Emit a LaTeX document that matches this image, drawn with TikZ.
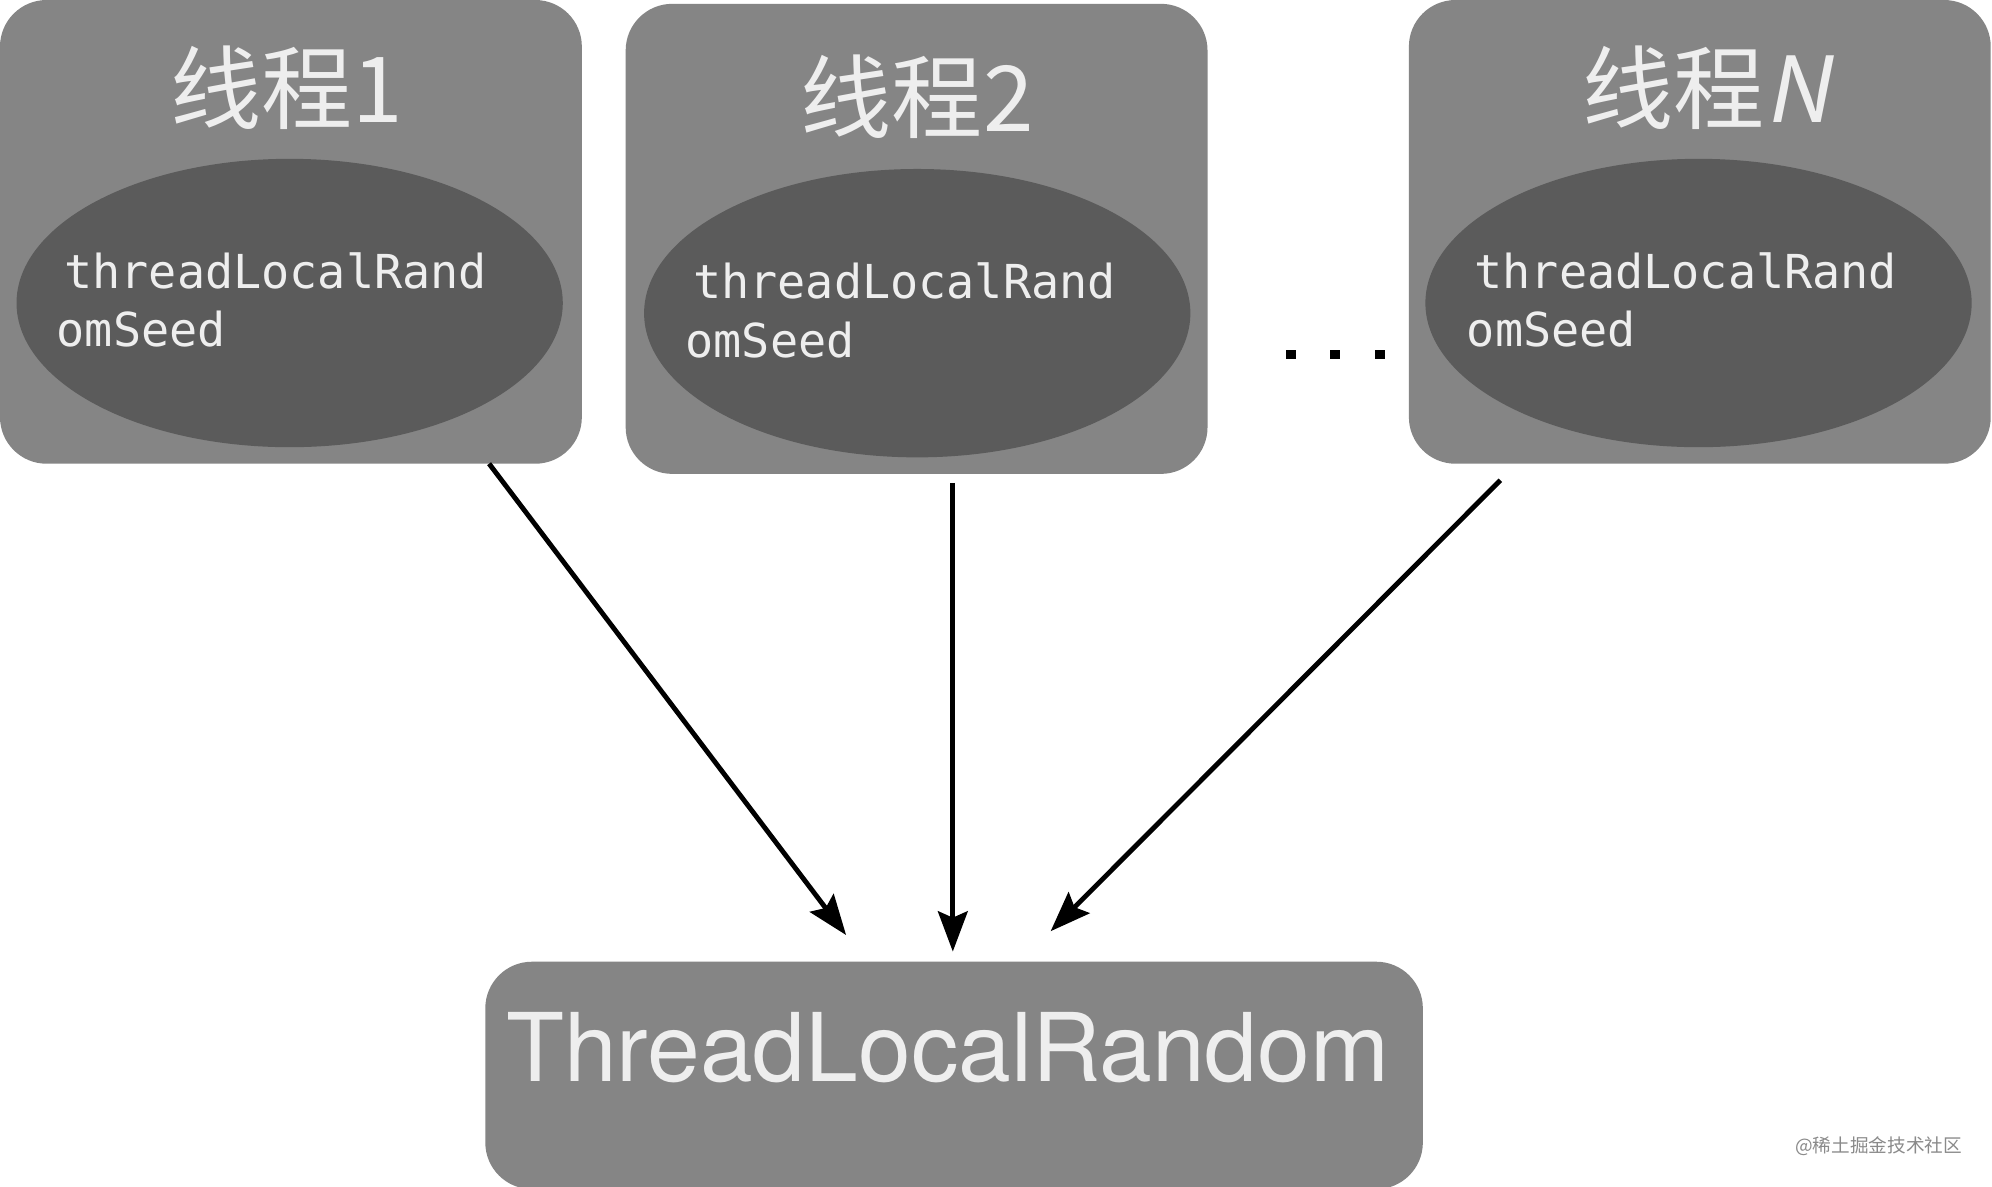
\documentclass[tikz,border=0pt]{standalone}
\usepackage{fontspec}
\setmainfont{Liberation Sans}
\newfontfamily\cjk{Noto Sans CJK SC}
\newfontfamily\cjkit[FakeSlant=0.2]{Noto Sans CJK SC}
\newfontfamily\monof{DejaVu Sans Mono}
\newfontfamily\helv{TeX Gyre Heros}
\usetikzlibrary{shapes.geometric,arrows.meta}
\definecolor{boxgray}{HTML}{858585}
\definecolor{ellgray}{HTML}{5B5B5B}
\definecolor{txtwhite}{HTML}{EEEEEE}
\definecolor{wmgray}{HTML}{8A8A8A}
\tikzset{
  threadbox/.style={fill=boxgray, draw=none, rounded corners=11pt, inner sep=0pt, outer sep=0pt,
    minimum width=137.4pt, minimum height=109.5pt},
  seedell/.style={ellipse, fill=ellgray, draw=none, inner sep=0pt, outer sep=0pt,
    minimum width=129pt, minimum height=68.1pt},
  title/.style={text=txtwhite, inner sep=0pt, font=\cjk\fontsize{21.5pt}{24pt}\selectfont},
  seedtxt/.style={text=txtwhite, inner sep=0pt, anchor=base west, font=\monof\fontsize{11.05pt}{13pt}\selectfont},
  arr/.style={-{Stealth[length=9.5pt,width=7pt,inset=1.5pt]}, line width=1.15pt, black},
  dot/.style={rectangle, fill=black, inner sep=0pt, minimum size=2.3pt}
}
\begin{document}
\begin{tikzpicture}[x=0.3pt,y=-0.3pt]
\useasboundingbox (0,0) rectangle (1568,934);
\fill[white] (0,0) rectangle (1568,934);
% thread boxes
\node[threadbox] (b1) at (229,182.5) {};
\node[threadbox, minimum height=111pt] (b2) at (721.5,188) {};
\node[threadbox] (bn) at (1338,182.5) {};
% ellipses
\node[seedell] (e1) at (228,238.5) {};
\node[seedell] (e2) at (722,246.5) {};
\node[seedell] (en) at (1337,238.5) {};
% titles
\node[title] (t1) at (226,69) {线程1};
\node[title] (t2) at (722,76) {线程2};
\node[title] (tn) at (1343,69) {线程{\cjkit N}};
% seed texts
\node[seedtxt] (s1a) at (50,227) {threadLocalRand};
\node[seedtxt] (s1b) at (44,273) {omSeed};
\node[seedtxt] (s2a) at (545,235) {threadLocalRand};
\node[seedtxt] (s2b) at (539,281) {omSeed};
\node[seedtxt] (sna) at (1160,227) {threadLocalRand};
\node[seedtxt] (snb) at (1154,273) {omSeed};
% dots
\node[dot] (d1) at (1016,279) {};
\node[dot] (d2) at (1051,279) {};
\node[dot] (d3) at (1086,279) {};
% bottom box
\node[fill=boxgray, draw=none, rounded corners=11pt, inner sep=0pt, outer sep=0pt,
  minimum width=221.4pt, minimum height=53.7pt] (tlr) at (751,846.5) {};
\node[text=txtwhite, inner sep=0pt, anchor=base, font=\helv\fontsize{22.4pt}{26pt}\selectfont] (tlrt) at (746,851) {ThreadLocalRandom};
% arrow endpoints
\coordinate (a1s) at (385,365);
\coordinate (a1e) at (666,736);
\coordinate (a2s) at (750,380);
\coordinate (a2e) at (750,749);
\coordinate (a3s) at (1181,378);
\coordinate (a3e) at (827,733);
\draw[arr] (a1s) -- (a1e);
\draw[arr] (a2s) -- (a2e);
\draw[arr] (a3s) -- (a3e);
% watermark
\node[text=wmgray, inner sep=0pt, anchor=east, font=\cjk\fontsize{4.4pt}{5pt}\selectfont] (wm) at (1545,902) {@稀土掘金技术社区};
\end{tikzpicture}
\end{document}
